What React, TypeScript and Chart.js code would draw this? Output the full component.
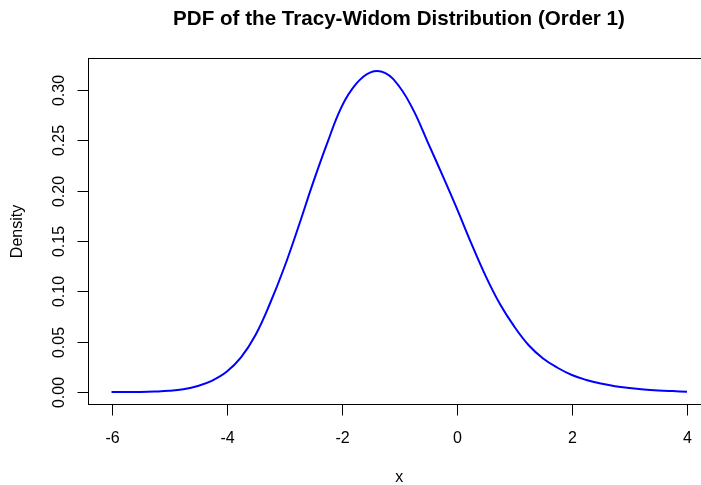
import React, { useEffect, useRef } from "react";
import { Chart, registerables } from "chart.js";

Chart.register(...registerables);

const xValues = [
  -6.0, -5.75, -5.5, -5.25, -5.0, -4.75, -4.5, -4.25, -4.0, -3.75, -3.5, -3.25,
  -3.0, -2.75, -2.5, -2.25, -2.0, -1.75, -1.5, -1.25, -1.0, -0.75, -0.5, -0.25,
  0.0, 0.25, 0.5, 0.75, 1.0, 1.25, 1.5, 1.75, 2.0, 2.25, 2.5, 2.75, 3.0, 3.25,
  3.5, 3.75, 4.0,
];
const densityValues = [
  0.0, 0.0001, 0.0002, 0.0006, 0.0013, 0.0029, 0.0061, 0.0115, 0.0202, 0.0345,
  0.0565, 0.0875, 0.1235, 0.1645, 0.2075, 0.2475, 0.2835, 0.306, 0.3175, 0.317,
  0.3035, 0.2795, 0.2475, 0.2155, 0.1825, 0.148, 0.1155, 0.0875, 0.065, 0.0465,
  0.0334, 0.0242, 0.017, 0.0121, 0.0085, 0.0059, 0.0041, 0.0027, 0.0017, 0.001,
  0.0004,
];
const xTicks = [-6, -4, -2, 0, 2, 4];
const yTicks = [0, 0.05, 0.1, 0.15, 0.2, 0.25, 0.3];
const yTickLabels = ["0.00", "0.05", "0.10", "0.15", "0.20", "0.25", "0.30"];
const titleText = "PDF of the Tracy-Widom Distribution (Order 1)";
const xLabel = "x";
const yLabel = "Density";

const FONT = '"Liberation Sans", Arial, Helvetica, sans-serif';

const rAxesPlugin = {
  id: "rAxes",
  afterDraw(chart: any) {
    const ctx = chart.ctx as CanvasRenderingContext2D;
    const { left, top, right, bottom } = chart.chartArea;
    const xs = chart.scales.x;
    const ys = chart.scales.y;
    ctx.save();
    ctx.strokeStyle = "#000";
    ctx.fillStyle = "#000";
    ctx.lineWidth = 1;
    // box
    ctx.strokeRect(left, top, right - left, bottom - top);
    // x axis
    const xp = xTicks.map((v) => Math.round(xs.getPixelForValue(v)) + 0.5);
    ctx.beginPath();
    ctx.moveTo(xp[0], bottom);
    ctx.lineTo(xp[xp.length - 1], bottom);
    xp.forEach((p) => {
      ctx.moveTo(p, bottom);
      ctx.lineTo(p, bottom + 11);
    });
    // y axis ticks
    const yp = yTicks.map((v) => Math.round(ys.getPixelForValue(v)) + 0.5);
    ctx.moveTo(left, yp[0]);
    ctx.lineTo(left, yp[yp.length - 1]);
    yp.forEach((p) => {
      ctx.moveTo(left, p);
      ctx.lineTo(left - 11, p);
    });
    ctx.stroke();
    // x tick labels
    ctx.font = `16px ${FONT}`;
    ctx.textAlign = "center";
    ctx.textBaseline = "alphabetic";
    xTicks.forEach((v, i) => {
      ctx.fillText(String(v), xp[i], 443);
    });
    // y tick labels rotated
    yTicks.forEach((v, i) => {
      ctx.save();
      ctx.translate(63.5, yp[i]);
      ctx.rotate(-Math.PI / 2);
      ctx.fillText(yTickLabels[i], 0, 0);
      ctx.restore();
    });
    // axis titles
    ctx.fillText(xLabel, (left + right) / 2, 482);
    ctx.save();
    ctx.translate(22, (top + bottom) / 2);
    ctx.rotate(-Math.PI / 2);
    ctx.fillText(yLabel, 0, 0);
    ctx.restore();
    // main title
    ctx.font = `bold 20.6px ${FONT}`;
    ctx.fillText(titleText, 399, 25);
    ctx.restore();
  },
};

export default function App() {
  const ref = useRef<HTMLCanvasElement | null>(null);
  useEffect(() => {
    document.body.style.margin = "0";
    document.body.style.overflow = "hidden";
    const canvas = ref.current!;
    const chart = new Chart(canvas, {
      type: "line",
      data: {
        datasets: [
          {
            data: xValues.map((x, i) => ({ x, y: densityValues[i] })),
            borderColor: "#0000FF",
            borderWidth: 2,
            pointRadius: 0,
            fill: false,
            tension: 0.4,
          },
        ],
      },
      options: {
        responsive: false,
        animation: false,
        devicePixelRatio: 1,
        layout: { padding: { left: 88.5, top: 58.5, right: 10, bottom: 80.5 } },
        plugins: {
          legend: { display: false },
          tooltip: { enabled: false },
          title: { display: false },
        },
        scales: {
          x: { type: "linear", min: -6.4, max: 4.4, display: false },
          y: { type: "linear", min: -0.0123, max: 0.3313, display: false },
        },
      },
      plugins: [rAxesPlugin],
    });
    return () => chart.destroy();
  }, []);
  return (
    <div style={{ position: "fixed", left: 0, top: 0, background: "#fff" }}>
      <canvas ref={ref} width={720} height={485} style={{ display: "block" }} />
    </div>
  );
}
